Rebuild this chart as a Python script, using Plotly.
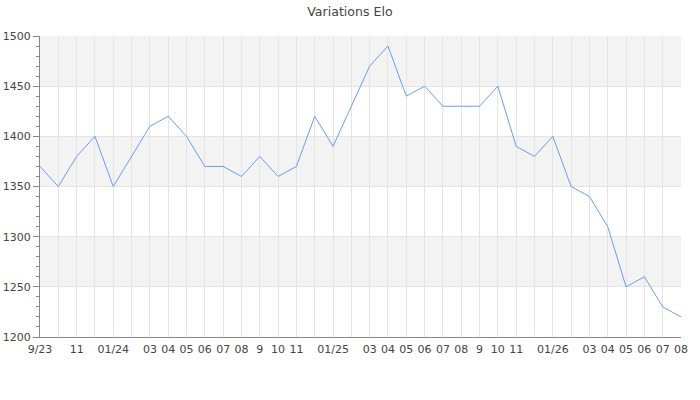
import plotly.graph_objects as go

months = ["9/23", "10", "11", "12", "01/24", "02", "03", "04", "05", "06", "07", "08",
          "9", "10", "11", "12", "01/25", "02", "03", "04", "05", "06", "07", "08",
          "9", "10", "11", "12", "01/26", "02", "03", "04", "05", "06", "07", "08"]
shown = [True, False, True, False, True, False, True, True, True, True, True, True,
         True, True, True, False, True, False, True, True, True, True, True, True,
         True, True, True, False, True, False, True, True, True, True, True, True]
elo = [1370, 1350, 1380, 1400, 1350, 1380, 1410, 1420, 1400, 1370, 1370, 1360,
       1380, 1360, 1370, 1420, 1390, 1430, 1470, 1490, 1440, 1450, 1430, 1430,
       1430, 1450, 1390, 1380, 1400, 1350, 1340, 1310, 1250, 1260, 1230, 1220]
bands = [(1450, 1500), (1350, 1400), (1250, 1300)]

x = list(range(len(months)))
ticktext = [m if s else "" for m, s in zip(months, shown)]

W, H = 700, 400

fig = go.Figure()
fig.add_trace(go.Scatter(x=x, y=elo, mode="lines",
                         line=dict(color="#6b9cf0", width=1), hoverinfo="y"))

for lo, hi in bands:
    fig.add_shape(type="rect", xref="paper", yref="y", x0=0, x1=1, y0=lo, y1=hi,
                  fillcolor="#f3f3f3", line=dict(width=0), layer="below")

fig.update_layout(
    width=W, height=H,
    margin=dict(l=40, r=19, t=36, b=63),
    paper_bgcolor="white", plot_bgcolor="white",
    font=dict(family="DejaVu Sans", size=11, color="#444"),
    title=dict(text="Variations Elo", x=350 / W, xanchor="center",
               y=1 - 12 / H, yanchor="middle",
               font=dict(size=12.6, color="#444")),
    showlegend=False,
)
fig.update_xaxes(range=[0, len(months) - 1], tickmode="array", tickvals=x, ticktext=ticktext,
                 showgrid=True, gridcolor="#e4e4e4", gridwidth=1,
                 showline=True, linecolor="#888", linewidth=1, ticks="",
                 zeroline=False, tickangle=0, automargin=False, ticklabelstandoff=2,
                 tickfont=dict(size=11, color="#444"))
fig.update_yaxes(range=[1200, 1500], tick0=1200, dtick=50,
                 showgrid=True, gridcolor="#e4e4e4", gridwidth=1,
                 showline=True, linecolor="#888", linewidth=1,
                 ticks="outside", ticklen=6, tickcolor="#888", automargin=False,
                 minor=dict(dtick=10, ticks="outside", ticklen=3, tickcolor="#888", showgrid=False),
                 zeroline=False, tickfont=dict(size=11, color="#444"))

fig.write_html("out.html", config={"displayModeBar": False},
               post_script="document.body.style.margin='0';")
